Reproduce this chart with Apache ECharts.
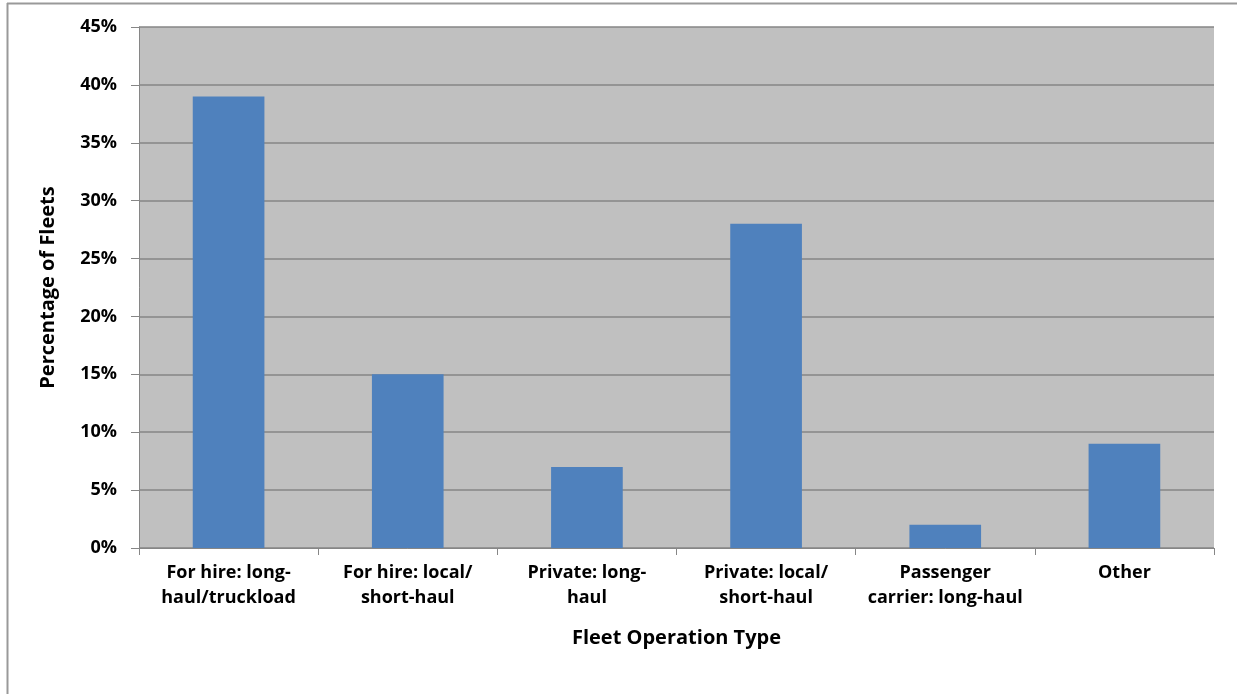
<!DOCTYPE html>
<html>
<head>
<meta charset="utf-8">
<script src="https://cdn.jsdelivr.net/npm/echarts@6/dist/echarts.min.js"></script>
<style>
html,body{margin:0;padding:0;background:#fff;}
#chart{width:1237px;height:694px;}
</style>
</head>
<body>
<div id="chart"></div>
<script>
var categories = ['For hire: long-\nhaul/truckload', 'For hire: local/\nshort-haul', 'Private: long-\nhaul', 'Private: local/\nshort-haul', 'Passenger\ncarrier: long-haul', 'Other'];
var values = [39, 15, 7, 28, 2, 9];
var yTicks = [0, 5, 10, 15, 20, 25, 30, 35, 40, 45];

var FONT = '"Open Sans", sans-serif';
var chart = echarts.init(document.getElementById('chart'), null, {renderer: 'canvas'});
chart.setOption({
  backgroundColor: '#ffffff',
  animation: false,
  graphic: [
    {type: 'line', shape: {x1: 7, y1: 3.5, x2: 1237, y2: 3.5}, style: {stroke: '#999999', lineWidth: 2}},
    {type: 'line', shape: {x1: 7.5, y1: 3, x2: 7.5, y2: 694}, style: {stroke: '#999999', lineWidth: 2}}
  ],
  grid: {left: 139, right: 23, top: 27, bottom: 146, show: true, backgroundColor: '#C0C0C0', borderWidth: 0},
  xAxis: {
    type: 'category',
    data: categories,
    name: 'Fleet Operation Type',
    nameLocation: 'middle',
    nameGap: 80,
    nameTextStyle: {fontFamily: FONT, fontWeight: 'bold', fontSize: 20, color: '#000'},
    axisLine: {show: true, lineStyle: {color: '#868686', width: 1}},
    axisTick: {show: true, length: 7, lineStyle: {color: '#868686'}, alignWithLabel: false},
    axisLabel: {fontFamily: FONT, fontWeight: 'bold', fontSize: 18, color: '#000', margin: 12, lineHeight: 25, interval: 0}
  },
  yAxis: {
    type: 'value',
    min: yTicks[0],
    max: yTicks[yTicks.length - 1],
    interval: 5,
    name: 'Percentage of Fleets',
    nameLocation: 'middle',
    nameGap: 81,
    nameTextStyle: {fontFamily: FONT, fontWeight: 'bold', fontSize: 20, color: '#000'},
    axisLine: {show: true, lineStyle: {color: '#868686', width: 1}},
    axisTick: {show: true, length: 8, lineStyle: {color: '#868686'}},
    splitLine: {show: true, lineStyle: {color: '#868686', width: 1.5}},
    axisLabel: {fontFamily: FONT, fontWeight: 'bold', fontSize: 18, color: '#000', margin: 22, formatter: '{value}%'}
  },
  series: [{
    type: 'bar',
    data: values,
    barWidth: '40%',
    itemStyle: {color: '#4F81BD'}
  }]
});
</script>
</body>
</html>
